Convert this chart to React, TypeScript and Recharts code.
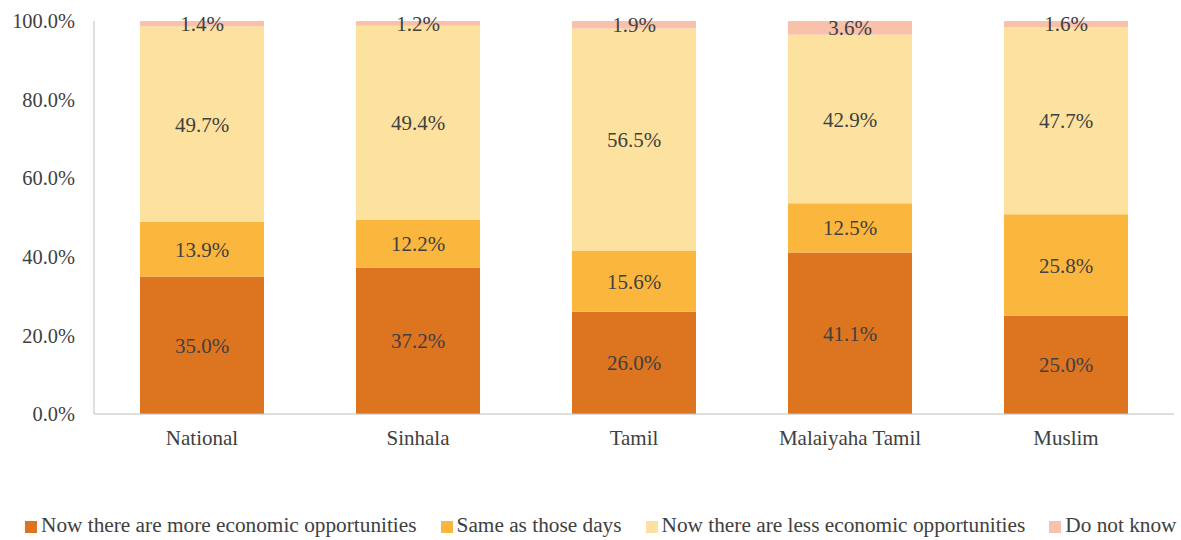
import React from "react";
import { BarChart, Bar, XAxis, YAxis, Legend, LabelList } from "recharts";

const categories = ["National", "Sinhala", "Tamil", "Malaiyaha Tamil", "Muslim"];
const moreOpp = [35.0, 37.2, 26.0, 41.1, 25.0];
const sameDays = [13.9, 12.2, 15.6, 12.5, 25.8];
const lessOpp = [49.7, 49.4, 56.5, 42.9, 47.7];
const dontKnow = [1.4, 1.2, 1.9, 3.6, 1.6];
const yTicks = [0, 20, 40, 60, 80, 100];

const seriesNames = [
  "Now there are more economic opportunities",
  "Same as those days",
  "Now there are less economic opportunities",
  "Do not know",
];
const colors = ["#DD7420", "#FBB63E", "#FCE29E", "#F9C0AA"];

const data = categories.map((c, i) => ({
  name: c,
  more: moreOpp[i],
  same: sameDays[i],
  less: lessOpp[i],
  dk: dontKnow[i],
}));

const FONT = "Liberation Serif";
const TEXT = "#404040";

const fmt = (v: any) => `${Number(v).toFixed(1)}%`;

const renderLegend = () => (
  <div
    style={{
      display: "flex",
      fontFamily: FONT,
      fontSize: 21.3,
      color: TEXT,
      paddingLeft: 25,
      whiteSpace: "nowrap",
    }}
  >
    {seriesNames.map((n, i) => (
      <div key={n} style={{ display: "flex", alignItems: "center", marginRight: i === 3 ? 0 : 24 }}>
        <span style={{ width: 12, height: 12, background: colors[i], display: "inline-block", marginRight: 4, marginTop: 3 }} />
        <span>{n}</span>
      </div>
    ))}
  </div>
);

export default function App() {
  const keys = ["more", "same", "less", "dk"];
  return (
    <div style={{ position: "absolute", left: 0, top: 0, width: 1181, height: 540, background: "#fff" }}>
      <BarChart
        width={1181}
        height={540}
        data={data}
        margin={{ top: 21, right: 7, bottom: 0, left: 0 }}
        barSize={124}
      >
        <YAxis
          type="number"
          domain={[0, 100]}
          ticks={yTicks}
          allowDataOverflow
          width={94}
          tickFormatter={(v) => `${Number(v).toFixed(1)}%`}
          tick={{ fontFamily: FONT, fontSize: 20.4, fill: TEXT }}
          tickLine={false}
          axisLine={{ stroke: "#BFBFBF" }}
          tickMargin={13}
        />
        <XAxis
          dataKey="name"
          tick={{ fontFamily: FONT, fontSize: 21, fill: TEXT }}
          tickLine={false}
          axisLine={{ stroke: "#BFBFBF" }}
          tickMargin={10}
          height={101}
        />
        <Legend
          verticalAlign="bottom"
          align="left"
          content={renderLegend}
          wrapperStyle={{ bottom: 2, left: 0 }}
        />
        {keys.map((k, i) => (
          <Bar
            key={k}
            dataKey={k}
            name={seriesNames[i]}
            stackId="a"
            fill={colors[i]}
            isAnimationActive={false}
          >
            <LabelList
              dataKey={k}
              position="center"
              formatter={fmt}
              style={{ fontFamily: FONT, fontSize: 21, fill: TEXT }}
            />
          </Bar>
        ))}
      </BarChart>
    </div>
  );
}
